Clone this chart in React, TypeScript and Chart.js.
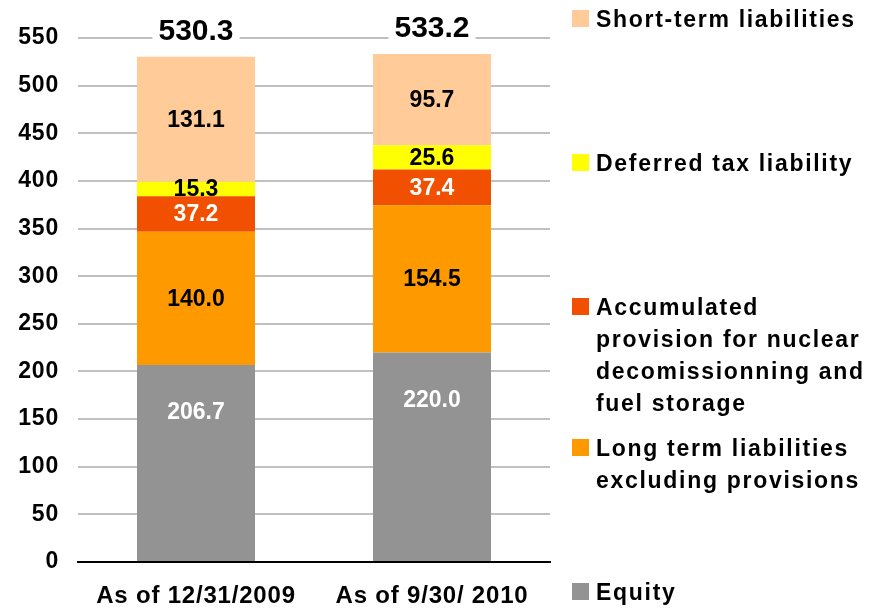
import React, { useEffect, useRef } from "react";
import { Chart, registerables } from "chart.js";

Chart.register(...registerables);

const categories = ["As of 12/31/2009", "As of 9/30/ 2010"];
const equity = [206.7, 220.0];
const longTerm = [140.0, 154.5];
const accumulated = [37.2, 37.4];
const deferredTax = [15.3, 25.6];
const shortTerm = [131.1, 95.7];
const yMax = 550;
const yStep = 50;

const seriesNames = [
  "Equity",
  "Long term liabilities excluding provisions",
  "Accumulated provision for nuclear decomissionning and fuel storage",
  "Deferred tax liability",
  "Short-term liabilities",
];
const legendLines = [
  ["Equity"],
  ["Long term liabilities", "excluding provisions"],
  ["Accumulated", "provision for nuclear", "decomissionning and", "fuel storage"],
  ["Deferred tax liability"],
  ["Short-term liabilities"],
];
const colors = ["#939393", "#FF9900", "#F05000", "#FFFF00", "#FFCC99"];
const labelColors = ["#FFFFFF", "#000000", "#FFFFFF", "#000000", "#000000"];

const FONT = "'Liberation Sans', Arial, sans-serif";

const legendBaselines = [600, 456, 315, 171, 27];

const labelsPlugin = {
  id: "customLabels",
  beforeDraw(chart: any) {
    (chart.ctx as any).letterSpacing = "0.8px";
  },
  beforeDatasetsDraw(chart: any) {
    (chart.ctx as any).letterSpacing = "0px";
  },
  afterDatasetsDraw(chart: any) {
    const ctx = chart.ctx;
    ctx.save();
    (ctx as any).letterSpacing = "0px";
    ctx.textAlign = "center";
    ctx.textBaseline = "middle";
    chart.data.datasets.forEach((ds: any, di: number) => {
      const meta = chart.getDatasetMeta(di);
      meta.data.forEach((bar: any, i: number) => {
        const v = ds.data[i];
        const top = Math.min(bar.y, bar.base);
        const bottom = Math.max(bar.y, bar.base);
        let y = (top + bottom) / 2;
        if (di === 0) y = top + 47;
        ctx.fillStyle = labelColors[di];
        ctx.font = `bold 23px ${FONT}`;
        ctx.fillText(v.toFixed(1), bar.x, y + 1);
      });
    });
    // totals
    const lastMeta = chart.getDatasetMeta(chart.data.datasets.length - 1);
    lastMeta.data.forEach((bar: any, i: number) => {
      const total = chart.data.datasets.reduce((s: number, ds: any) => s + ds.data[i], 0);
      const txt = total.toFixed(1);
      ctx.font = `bold 30px ${FONT}`;
      const w = ctx.measureText(txt).width;
      const y = bar.y - 26;
      ctx.fillStyle = "#FFFFFF";
      ctx.fillRect(bar.x - w / 2 - 6, y - 15, w + 12, 30);
      ctx.fillStyle = "#000000";
      ctx.fillText(txt, bar.x, y + 1);
    });
    ctx.restore();
  },
  afterDraw(chart: any) {
    const ctx = chart.ctx;
    ctx.save();
    ctx.font = `bold 23px ${FONT}`;
    (ctx as any).letterSpacing = "1.7px";
    ctx.textAlign = "left";
    ctx.textBaseline = "alphabetic";
    legendLines.forEach((lines, i) => {
      const base = legendBaselines[i];
      ctx.fillStyle = colors[i];
      ctx.fillRect(572, base - 17, 17, 17);
      ctx.fillStyle = "#000000";
      lines.forEach((ln, li) => {
        ctx.fillText(ln, 596, base + li * 32);
      });
    });
    ctx.restore();
  },
};

export default function App() {
  const ref = useRef<HTMLCanvasElement>(null);
  useEffect(() => {
    if (!ref.current) return;
    const datasets = [equity, longTerm, accumulated, deferredTax, shortTerm].map((d, i) => ({
      label: seriesNames[i],
      data: d,
      backgroundColor: colors[i],
      borderWidth: 0,
      barPercentage: 1,
      categoryPercentage: 0.5,
    }));
    const chart = new Chart(ref.current, {
      type: "bar",
      data: { labels: categories, datasets },
      options: {
        animation: false,
        responsive: true,
        maintainAspectRatio: false,
        layout: { padding: { top: 38, right: 323, bottom: 0, left: 0 } },
        plugins: { legend: { display: false }, tooltip: { enabled: false } },
        scales: {
          x: {
            stacked: true,
            grid: { display: false, drawTicks: false },
            border: { display: true, color: "#000000", width: 2 },
            ticks: {
              color: "#000000",
              font: { family: FONT, size: 24, weight: "bold" },
              padding: 20,
              maxRotation: 0,
              autoSkip: false,
            },
            afterFit(scale: any) {
              scale.height = 46;
            },
          },
          y: {
            stacked: true,
            min: 0,
            max: yMax,
            grid: { color: "#C0C0C0", lineWidth: 2, drawTicks: false },
            border: { display: false },
            ticks: {
              stepSize: yStep,
              color: "#000000",
              font: { family: FONT, size: 23, weight: "bold" },
              padding: 19,
            },
            afterFit(scale: any) {
              scale.width = 78;
            },
          },
        },
      },
      plugins: [labelsPlugin],
    });
    return () => chart.destroy();
  }, []);
  return (
    <div style={{ position: "fixed", left: 0, top: 0, width: 873, height: 608, background: "#fff" }}>
      <canvas ref={ref} />
    </div>
  );
}
